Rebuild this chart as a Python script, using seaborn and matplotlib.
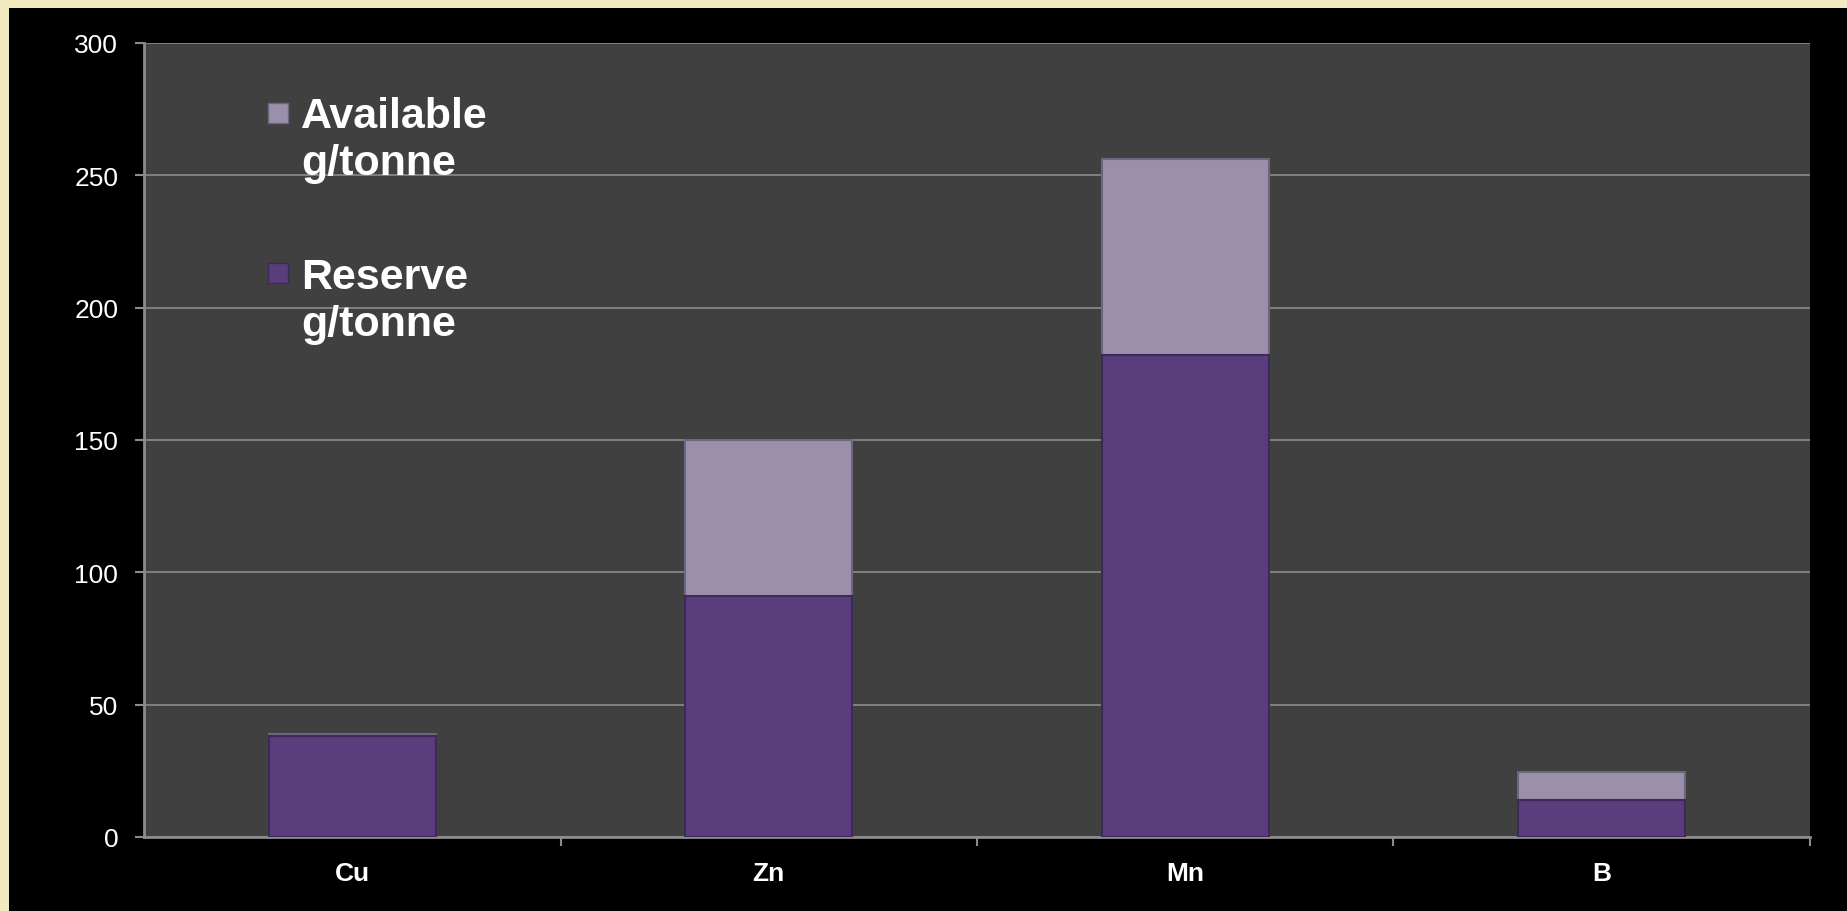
import matplotlib
matplotlib.use("Agg")
import matplotlib.pyplot as plt
import seaborn as sb
import pandas
from matplotlib.patches import Rectangle, Patch
from matplotlib.legend_handler import HandlerPatch

# data
elements = ["Cu", "Zn", "Mn", "B"]
reserve = [38, 91, 182, 14]
available = [1, 59, 74, 10.5]
y_ticks = [0, 50, 100, 150, 200, 250, 300]

RESERVE_COLOR = "#5a3d7c"
AVAILABLE_COLOR = "#9b90aa"
PLOT_BG = "#404040"
GRID_COLOR = "#8c8c8c"
BORDER_COLOR = "#f1e9bf"
LEGEND_SIZE = 31

sb.set_theme(style="dark")
plt.rcParams["font.family"] = ["Liberation Sans", "DejaVu Sans"]

df = pandas.DataFrame(
    {
        "Element": elements,
        "Reserve": reserve,
        "Total": [r + a for r, a in zip(reserve, available)],
    }
)


def top_square(legend, orig_handle, xdescent, ydescent, width, height, fontsize):
    # small square sitting at the first text line instead of the middle
    size = 14.4
    return Rectangle((-xdescent, -ydescent + height - size + 4), size, size)


fig = plt.figure(figsize=(18.47, 9.12), dpi=100)
fig.patch.set_facecolor(BORDER_COLOR)
# black slide area, beige strip left and top
fig.patches.append(
    Rectangle((9 / 1847, 0), 1, 1 - 9 / 912, transform=fig.transFigure,
              facecolor="black", edgecolor="none", zorder=-10)
)

ax = fig.add_axes([144 / 1847, 1 - 838 / 912, (1810 - 144) / 1847, (838 - 44) / 912])
ax.set_zorder(5)
ax.set_facecolor(PLOT_BG)

sb.barplot(df, x="Element", y="Total", color=AVAILABLE_COLOR, width=0.4,
           edgecolor="#6e6680", linewidth=1.5, saturation=1, ax=ax, zorder=3)
sb.barplot(df, x="Element", y="Reserve", color=RESERVE_COLOR, width=0.4,
           edgecolor="#3e2a58", linewidth=1.5, saturation=1, ax=ax, zorder=4)

ax.set_xlim(-0.5, len(elements) - 0.5)
ax.set_ylim(0, 300)
ax.set_yticks(y_ticks)
ax.set_yticklabels([str(t) for t in y_ticks])
ax.set_xlabel("")
ax.set_ylabel("")

ax.grid(axis="y", color=GRID_COLOR, linewidth=1.2, zorder=1)
ax.grid(axis="x", visible=False)
ax.set_axisbelow(True)

for side in ["top", "right"]:
    ax.spines[side].set_visible(False)
for side in ["left", "bottom"]:
    ax.spines[side].set_visible(True)
    ax.spines[side].set_color(GRID_COLOR)
    ax.spines[side].set_linewidth(2)

ax.tick_params(axis="y", direction="out", length=6.5, width=1.5, color=GRID_COLOR,
               pad=12, labelsize=19, labelcolor="white", left=True)
ax.tick_params(axis="x", which="major", length=0, pad=17, labelsize=19,
               labelcolor="white")
for lbl in ax.get_xticklabels():
    lbl.set_fontweight("bold")
ax.set_xticks([i + 0.5 for i in range(len(elements))], minor=True)
ax.tick_params(axis="x", which="minor", direction="out", length=6.5, width=1.5,
               color=GRID_COLOR, bottom=True)

handles = [
    Patch(facecolor=AVAILABLE_COLOR, edgecolor="#6e6680", label="Available\ng/tonne"),
    Patch(facecolor=RESERVE_COLOR, edgecolor="#3e2a58", label="Reserve\ng/tonne"),
]
leg = ax.legend(handles=handles, loc="upper left",
                bbox_to_anchor=(268 / 1847, 1 - 97 / 912),
                bbox_transform=fig.transFigure, frameon=False,
                prop={"size": LEGEND_SIZE, "weight": "bold"}, labelspacing=1.7,
                handlelength=0.47, handleheight=2.0, handletextpad=0.3,
                borderpad=0, borderaxespad=0,
                handler_map={Patch: HandlerPatch(patch_func=top_square)})
for txt in leg.get_texts():
    txt.set_color("white")
    txt.set_linespacing(1.24)

plt.savefig("out.png", dpi=100, facecolor=fig.get_facecolor())
